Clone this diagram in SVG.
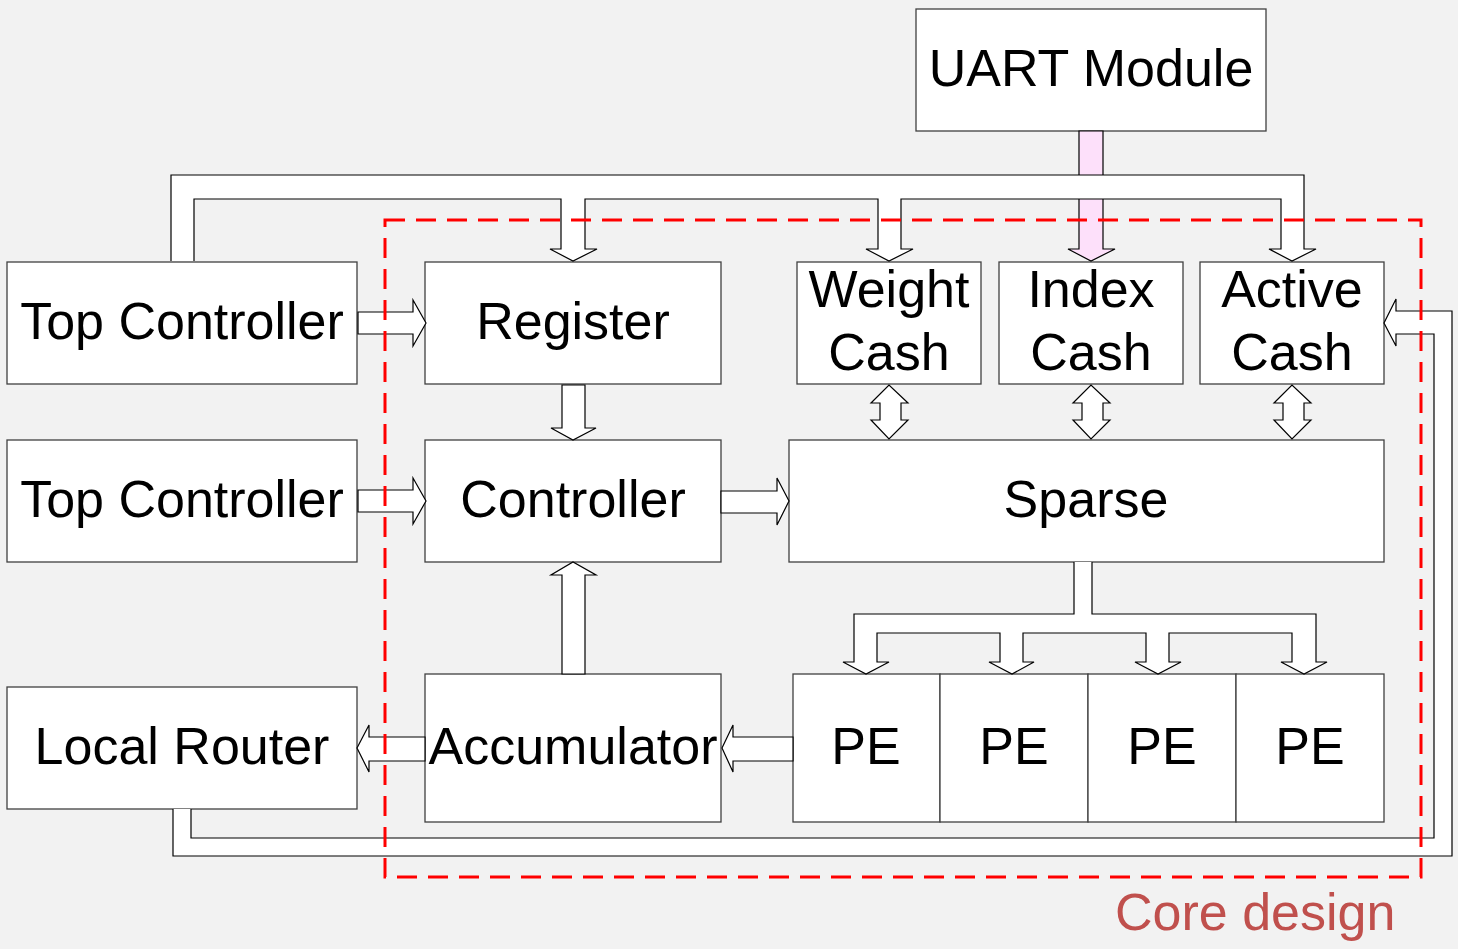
<svg xmlns="http://www.w3.org/2000/svg" width="1458" height="949" viewBox="0 0 1458 949">
<style>
.box{fill:#fff;stroke:#404040;stroke-width:1.3}
.arr{fill:#fff;stroke:#000;stroke-width:1.2;stroke-linejoin:miter}
.pink{fill:#fde0fa;stroke:#000;stroke-width:1.2}
.t{font-family:"Liberation Sans",Arial,sans-serif;font-size:52px;fill:#000;text-anchor:middle}
.core{font-family:"Liberation Sans",Arial,sans-serif;font-size:52px;fill:#c0504d}
.dash{fill:none;stroke:#ff0000;stroke-width:3;stroke-dasharray:20 11}
</style>
<rect width="1458" height="949" fill="#f2f2f2"/>

<g id="uart"><rect class="box" x="916" y="9" width="350" height="122"/><text class="t" x="1091" y="86">UART Module</text></g>
<g id="top1"><rect class="box" x="7" y="262" width="350" height="122"/><text class="t" x="182" y="339">Top Controller</text></g>
<g id="register"><rect class="box" x="425" y="262" width="296" height="122"/><text class="t" x="573" y="339">Register</text></g>
<g id="weight"><rect class="box" x="797" y="262" width="184" height="122"/><text class="t" x="889" y="307">Weight</text><text class="t" x="889" y="370">Cash</text></g>
<g id="index"><rect class="box" x="999" y="262" width="184" height="122"/><text class="t" x="1091" y="307">Index</text><text class="t" x="1091" y="370">Cash</text></g>
<g id="active"><rect class="box" x="1200" y="262" width="184" height="122"/><text class="t" x="1292" y="307">Active</text><text class="t" x="1292" y="370">Cash</text></g>
<g id="top2"><rect class="box" x="7" y="440" width="350" height="122"/><text class="t" x="182" y="517">Top Controller</text></g>
<g id="controller"><rect class="box" x="425" y="440" width="296" height="122"/><text class="t" x="573" y="517">Controller</text></g>
<g id="sparse"><rect class="box" x="789" y="440" width="595" height="122"/><text class="t" x="1086" y="517">Sparse</text></g>
<g id="router"><rect class="box" x="7" y="687" width="350" height="122"/><text class="t" x="182" y="764">Local Router</text></g>
<g id="accumulator"><rect class="box" x="425" y="674" width="296" height="148"/><text class="t" x="573" y="764">Accumulator</text></g>
<g id="pe1"><rect class="box" x="793" y="674" width="147" height="148"/><text class="t" x="866" y="764">PE</text></g>
<g id="pe2"><rect class="box" x="940" y="674" width="148" height="148"/><text class="t" x="1014" y="764">PE</text></g>
<g id="pe3"><rect class="box" x="1088" y="674" width="148" height="148"/><text class="t" x="1162" y="764">PE</text></g>
<g id="pe4"><rect class="box" x="1236" y="674" width="148" height="148"/><text class="t" x="1310" y="764">PE</text></g>

<g id="connectors">
<path class="pink" d="M1079,131 H1103 V249 H1115 L1091,261 L1068,249 H1079 Z"/>
<path class="arr" d="M171,261 V175 H1304 V249 H1316 L1292,261 L1269,249 H1281 V199 H901 V249 H913 L889,261 L866,249 H878 V199 H585 V249 H597 L573,261 L550,249 H561 V199 H194 V261"/>
<path class="arr" d="M358,312 H413 V300 L426,323 L413,346 V334 H358 Z"/>
<path class="arr" d="M358,490 H413 V478 L426,501 L413,524 V512 H358 Z"/>
<path class="arr" d="M562,385 H585 V428 H596 L573,440 L551,428 H562 Z"/>
<path class="arr" d="M880,403 L871,403 L889,385 L908,403 L901,403 V420 L908,420 L889,439 L871,420 L880,420 Z"/>
<path class="arr" d="M1082,403 L1073,403 L1091,385 L1110,403 L1103,403 V420 L1110,420 L1091,439 L1073,420 L1082,420 Z"/>
<path class="arr" d="M1283,403 L1274,403 L1292,385 L1311,403 L1304,403 V420 L1311,420 L1292,439 L1274,420 L1283,420 Z"/>
<path class="arr" d="M721,491 H777 V478 L789,501 L777,525 V513 H721 Z"/>
<path class="arr" d="M1074,562 V614 H854 V662 H843 L866,674 L889,662 H877 V633 H1000 V662 H989 L1012,674 L1034,662 H1023 V633 H1146 V662 H1135 L1158,674 L1181,662 H1169 V633 H1292 V662 H1281 L1304,674 L1327,662 H1316 V614 H1092 V562"/>
<path class="arr" d="M562,674 V575 H551 L573,562 L596,575 H585 V674 Z"/>
<path class="arr" d="M793,737 H733 V725 L722,748 L733,772 V761 H793 Z"/>
<path class="arr" d="M425,737 H369 V725 L357,748 L369,772 V761 H425 Z"/>
<path class="arr" d="M173,809 V856 H1452 V311 H1396 V299 L1384,323 L1396,346 V334 H1434 V838 H191 V809"/>
</g>

<rect class="dash" x="385" y="220" width="1036" height="657"/>
<text class="core" x="1115" y="930">Core design</text>
</svg>
